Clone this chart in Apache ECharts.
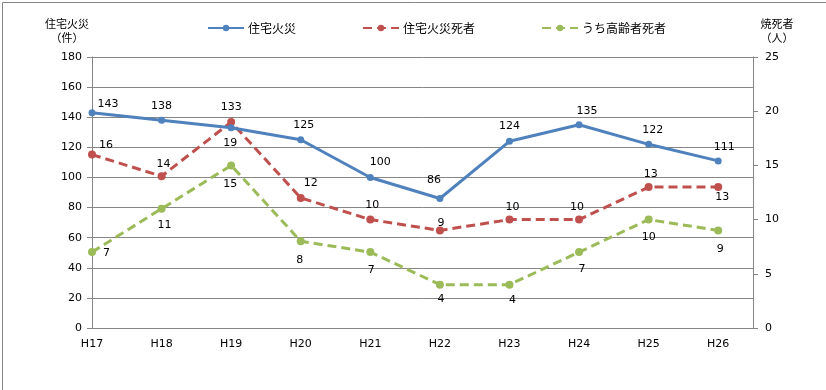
<!DOCTYPE html>
<html>
<head>
<meta charset="utf-8">
<script src="https://cdn.jsdelivr.net/npm/echarts@6/dist/echarts.min.js"></script>
<style>
html,body{margin:0;padding:0;background:#fff;}
#c{width:826px;height:390px;}
</style>
</head>
<body>
<div id="c"></div>
<script>
const categories = ['H17','H18','H19','H20','H21','H22','H23','H24','H25','H26'];
const fires = [143,138,133,125,100,86,124,135,122,111];
const deaths = [16,14,19,12,10,9,10,10,13,13];
const elderlyDeaths = [7,11,15,8,7,4,4,7,10,9];
const leftTicks = {min:0, max:180, interval:20};
const rightTicks = {min:0, max:25, interval:5};

// label placement (style only)
const firesLabel = [['top',[16,5]],['top',[0,0]],['top',[0,-7]],['top',[3,-1]],['top',[10,-1]],['top',[-6,-4]],['top',[0,-1]],['top',[8,0]],['top',[4,0]],['top',[6,0]]];
const deathsLabel = [['top',[14,5]],['top',[2,2]],['bottom',[-1,7]],['top',[10,0]],['top',[2,0]],['top',[1,7.5]],['top',[3,2]],['top',[-2,2]],['top',[2,2]],['bottom',[4,-4]]];
const elderlyLabel = [['right',[2,1]],['bottom',[3,2]],['bottom',[-1,4]],['bottom',[-1,4]],['bottom',[1,4]],['bottom',[1,0]],['bottom',[3,1]],['bottom',[3,3]],['bottom',[0,3]],['bottom',[2,4]]];

const numFont = 'DejaVu Sans';
const cjkFont = '"Noto Sans CJK JP"';
const gray = '#868686';

function build(vals, labels){
  return vals.map((v,i)=>({
    value:[i,v],
    label:{position:labels[i][0], offset:labels[i][1]}
  }));
}

const chart = echarts.init(document.getElementById('c'), null, {renderer:'canvas'});
const labelBase = {show:true, color:'#000', fontFamily:numFont, fontSize:11, distance:5};

chart.setOption({
  animation:false,
  backgroundColor:'#fff',
  grid:{left:92, right:73, top:57, bottom:62, containLabel:false},
  legend:{
    left:207, top:22, padding:0, itemWidth:36, itemHeight:8, itemGap:66,
    textStyle:{fontFamily:cjkFont, fontSize:12, color:'#000', padding:[0,0,0,-1]},
    data:['住宅火災','住宅火災死者','うち高齢者死者']
  },
  xAxis:{
    type:'value', min:0, max:9.5, interval:1,
    axisLine:{show:true, lineStyle:{color:gray, width:1}},
    axisTick:{show:false},
    splitLine:{show:false},
    axisLabel:{
      margin:11, color:'#000', fontFamily:numFont, fontSize:11,
      formatter:function(v){ return Number.isInteger(v) && categories[v] ? categories[v] : ''; }
    }
  },
  yAxis:[
    {
      type:'value', min:leftTicks.min, max:leftTicks.max, interval:leftTicks.interval,
      position:'left',
      axisLine:{show:true, lineStyle:{color:gray}},
      axisTick:{show:true, length:5, lineStyle:{color:gray}},
      splitLine:{show:true, lineStyle:{color:gray, width:1}},
      axisLabel:{margin:10, color:'#000', fontFamily:numFont, fontSize:11}
    },
    {
      type:'value', min:rightTicks.min, max:rightTicks.max, interval:rightTicks.interval,
      position:'right',
      axisLine:{show:true, lineStyle:{color:gray}},
      axisTick:{show:true, length:5, lineStyle:{color:gray}},
      splitLine:{show:false},
      axisLabel:{margin:12, color:'#000', fontFamily:numFont, fontSize:11}
    }
  ],
  graphic:[
    {type:'rect', left:0, top:0, shape:{x:0.5,y:0.5,width:825,height:389}, style:{fill:'none', stroke:gray, lineWidth:1}, silent:true, z:-10},
    {type:'text', x:67, y:17, style:{text:'住宅火災\n（件）', fill:'#000', font:'11px "Noto Sans CJK JP"', textAlign:'center', lineHeight:14}},
    {type:'text', x:777, y:17, style:{text:'焼死者\n（人）', fill:'#000', font:'11px "Noto Sans CJK JP"', textAlign:'center', lineHeight:14}}
  ],
  series:[
    {
      name:'住宅火災', type:'line', yAxisIndex:0,
      data:build(fires, firesLabel),
      symbol:'circle', symbolSize:7,
      lineStyle:{color:'#4F81BD', width:3},
      itemStyle:{color:'#4F81BD'},
      label:labelBase, z:3
    },
    {
      name:'住宅火災死者', type:'line', yAxisIndex:1,
      data:build(deaths, deathsLabel),
      symbol:'circle', symbolSize:8,
      lineStyle:{color:'#C0504D', width:3, type:[9,5]},
      itemStyle:{color:'#C0504D'},
      label:labelBase, z:2
    },
    {
      name:'うち高齢者死者', type:'line', yAxisIndex:1,
      data:build(elderlyDeaths, elderlyLabel),
      symbol:'circle', symbolSize:8,
      lineStyle:{color:'#9BBB59', width:3, type:[9,5]},
      itemStyle:{color:'#9BBB59'},
      label:labelBase, z:1
    }
  ]
});
</script>
</body>
</html>
